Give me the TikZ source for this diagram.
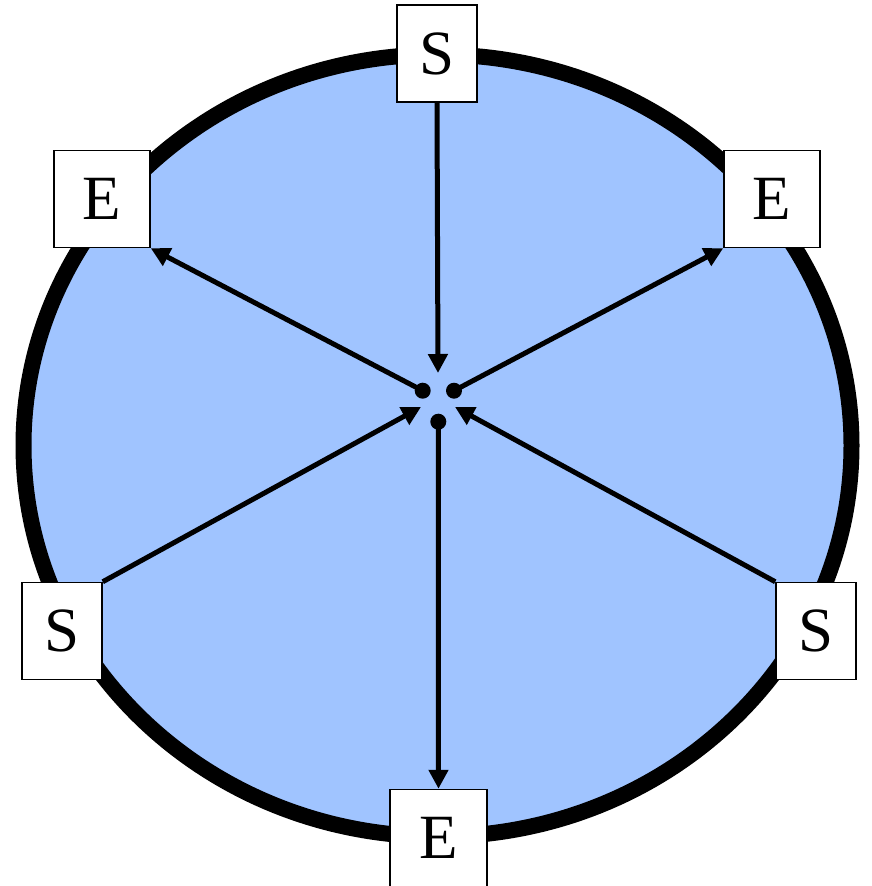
\documentclass[tikz,border=0pt]{standalone}
\usepackage{fontspec}
\setmainfont{Liberation Serif}
\usepackage{xcolor}
\usepackage{tikz}
\usetikzlibrary{arrows.meta}
\definecolor{bluefill}{HTML}{A0C4FF}
\definecolor{blackmain}{HTML}{000000}
\tikzset{flow/.style={-{Triangle[length=19pt,width=19pt]},line width=5pt,blackmain},
port/.style={draw,line width=1.5pt,fill=white,inner sep=0pt,minimum height=97,font=\fontsize{63}{63}\selectfont},
hub/.style={circle,fill=blackmain,inner sep=0pt,minimum size=16}}

\begin{document}
\begin{tikzpicture}[x=1pt,y=-1pt]
\useasboundingbox (0,0) rectangle (871,886);
\draw[line width=16pt,fill=bluefill] (437.5,445.5) ellipse [x radius=414,y radius=391];
\node[port,minimum width=80] (sTop) at (437,53.5) {S};
\node[port,minimum width=80] (sLeft) at (62,631) {S};
\node[port,minimum width=80] (sRight) at (816,631) {S};
\node[port,minimum width=96] (eLeft) at (102,199) {E};
\node[port,minimum width=96] (eRight) at (772,199) {E};
\node[port,minimum width=97] (eBot) at (438.5,838) {E};
\node[hub] (hubL) at (422.7,390.7) {};
\node[hub] (hubR) at (454,390.7) {};
\node[hub] (hubB) at (438.3,421.7) {};
\coordinate (inTop) at (438,373);
\coordinate (inL) at (421,407);
\coordinate (inR) at (455,407);
\draw[flow] (sTop.south) -- (inTop);
\draw[flow] (sLeft.north east) -- (inL);
\draw[flow] (sRight.north west) -- (inR);
\draw[flow] (hubL.center) -- (eLeft.south east);
\draw[flow] (hubR.center) -- (eRight.south west);
\draw[flow] (hubB.center) -- (eBot.north);
\end{tikzpicture}
\end{document}
